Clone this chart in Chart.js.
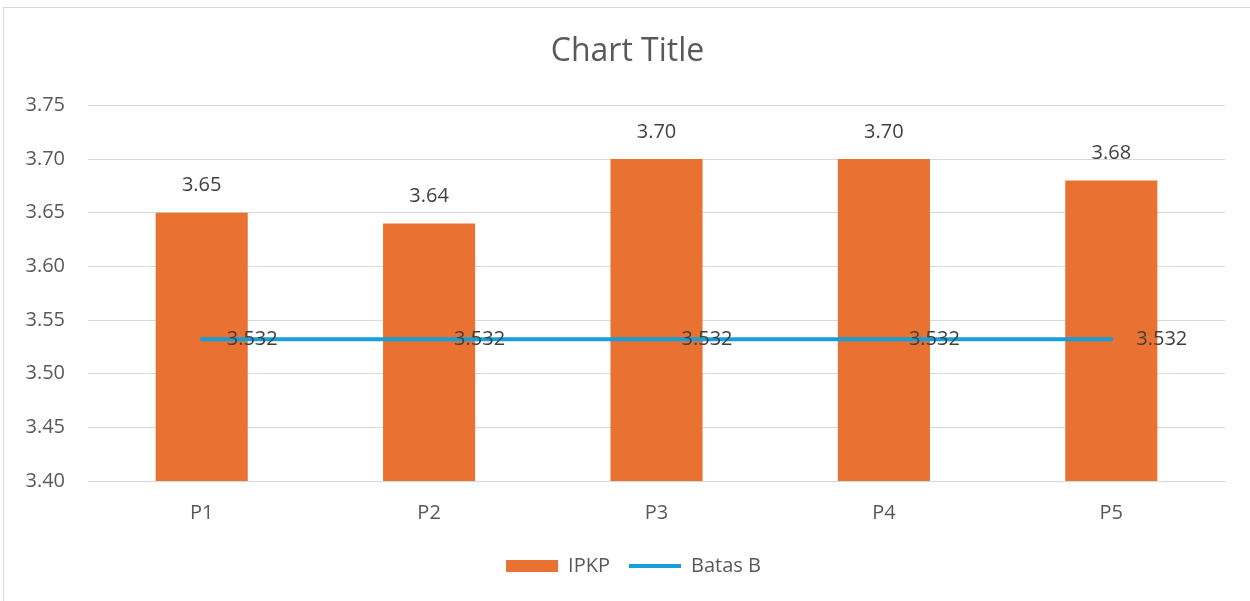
<!DOCTYPE html>
<html>
<head>
<meta charset="utf-8">
<script src="https://cdn.jsdelivr.net/npm/chart.js@4.4.1/dist/chart.umd.min.js"></script>
<style>
  html, body { margin: 0; padding: 0; background: #fff; overflow: hidden; }
  #frame {
    position: absolute; left: 3px; top: 7px; width: 1260px; height: 610px;
    border: 1px solid #d9d9d9; box-sizing: border-box;
  }
  #wrap { position: absolute; left: 0; top: 0; width: 1250px; height: 601px; }
</style>
</head>
<body>
<div id="frame"></div>
<div id="wrap"><canvas id="myChart"></canvas></div>
<script>
const categories = ["P1", "P2", "P3", "P4", "P5"];
const ipkp = [3.65, 3.64, 3.70, 3.70, 3.68];
const batasB = [3.532, 3.532, 3.532, 3.532, 3.532];
const yTicks = [3.40, 3.45, 3.50, 3.55, 3.60, 3.65, 3.70, 3.75];

const FONT = "'Open Sans', sans-serif";

// value labels: above bars, to the right of line points
const labelPlugin = {
  id: "valueLabels",
  afterLayout(chart) {
    // excel centres title and legend on the whole chart, not the plot
    chart.legend.left += 21;
    chart.legend.right += 21;
    chart.titleBlock.left += 15;
    chart.titleBlock.right += 15;
  },
  afterDatasetsDraw(chart) {
    const ctx = chart.ctx;
    ctx.save();
    ctx.font = "20px " + FONT;
    ctx.fillStyle = "#404040";
    chart.getDatasetMeta(0).data.forEach((bar, i) => {
      ctx.textAlign = "center";
      ctx.textBaseline = "middle";
      ctx.fillText(ipkp[i].toFixed(2), bar.x, bar.y - 27);
    });
    chart.getDatasetMeta(1).data.forEach((pt, i) => {
      ctx.textAlign = "left";
      ctx.textBaseline = "middle";
      ctx.fillText(String(batasB[i]), pt.x + 25, pt.y);
    });
    ctx.restore();
  },
};

const ctx = document.getElementById("myChart").getContext("2d");
new Chart(ctx, {
  data: {
    labels: categories,
    datasets: [
      {
        type: "bar",
        label: "IPKP",
        data: ipkp,
        order: 1,
        backgroundColor: "#e97132",
        pointStyle: "rect",
        categoryPercentage: 1,
        barPercentage: 0.405,
      },
      {
        type: "line",
        label: "Batas B",
        data: batasB,
        order: 0,
        borderColor: "#169fd8",
        backgroundColor: "#169fd8",
        borderWidth: 4,
        borderCapStyle: "round",
        pointRadius: 0,
        pointStyle: "line",
      },
    ],
  },
  options: {
    responsive: true,
    maintainAspectRatio: false,
    animation: false,
    layout: { padding: { left: 0, right: 25, top: 20, bottom: 15 } },
    plugins: {
      title: {
        display: true,
        text: "Chart Title",
        color: "#595959",
        font: { family: FONT, size: 32, weight: "normal" },
        padding: { top: 13, bottom: 34 },
      },
      legend: {
        position: "bottom",
        labels: {
          usePointStyle: true,
          pointStyleWidth: 52,
          boxHeight: 12,
          color: "#595959",
          font: { family: FONT, size: 20 },
          padding: 19,
          sort: (a, b) => a.datasetIndex - b.datasetIndex,
        },
      },
      tooltip: { enabled: false },
    },
    scales: {
      x: {
        grid: { display: false },
        border: { color: "#d9d9d9" },
        ticks: { color: "#595959", font: { family: FONT, size: 20 }, padding: 12 },
      },
      y: {
        min: 3.4,
        max: 3.75,
        afterFit(scale) { scale.width = 88; },
        afterBuildTicks(scale) { scale.ticks = yTicks.map((v) => ({ value: v })); },
        grid: { color: "#d9d9d9", drawTicks: false },
        border: { display: false },
        ticks: {
          color: "#595959",
          font: { family: FONT, size: 20 },
          padding: 23,
          callback: (v) => Number(v).toFixed(2),
        },
      },
    },
  },
  plugins: [labelPlugin],
});
</script>
</body>
</html>
